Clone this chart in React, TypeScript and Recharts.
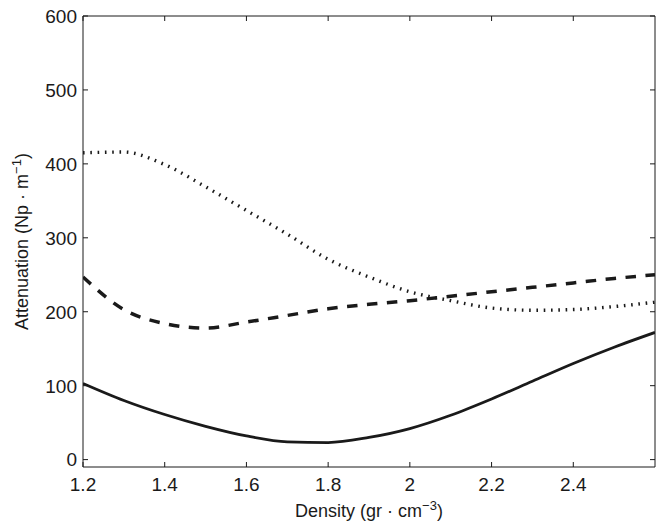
import { LineChart, Line, XAxis, YAxis, Label } from 'recharts';

// density (gr·cm^-3) sampled every 0.1
const density = [1.2, 1.3, 1.4, 1.5, 1.6, 1.7, 1.8, 1.9, 2.0, 2.1, 2.2, 2.3, 2.4, 2.5, 2.6];
const solidValues = [103, 80, 61, 45, 32, 24, 23, 30, 42, 60, 82, 106, 130, 152, 172];
const dashedValues = [247, 203, 184, 178, 186, 195, 204, 210, 215, 221, 227, 233, 239, 245, 250];
const dottedValues = [415, 416, 399, 369, 337, 305, 271, 247, 227, 215, 205, 202, 203, 207, 213];

const xTicks = [1.2, 1.4, 1.6, 1.8, 2, 2.2, 2.4];
const yTicks = [0, 100, 200, 300, 400, 500, 600];

const FONT = '"Liberation Sans", Arial, Helvetica, sans-serif';
const INK = '#1a1a1a';
const TICK_LEN = 5;
const TICK_MARGIN = 10;

const chartData = density.map((d, i) => ({
  density: d,
  solid: solidValues[i],
  dashed: dashedValues[i],
  dotted: dottedValues[i],
}));

const fmtX = (v: number) => String(Number(v.toFixed(1)));

function BottomTick(props: any) {
  const { x, y, payload } = props;
  const axisY = y - TICK_MARGIN;
  return (
    <g>
      <line x1={x} x2={x} y1={axisY} y2={axisY - TICK_LEN} stroke={INK} strokeWidth={1} />
      <text x={x} y={y} dy="0.72em" textAnchor="middle" fontSize={19} fontFamily={FONT} fill={INK}>
        {fmtX(payload.value)}
      </text>
    </g>
  );
}

function LeftTick(props: any) {
  const { x, y, payload } = props;
  const axisX = x + TICK_MARGIN;
  return (
    <g>
      <line x1={axisX} x2={axisX + TICK_LEN} y1={y} y2={y} stroke={INK} strokeWidth={1} />
      <text x={x + 4} y={y} dy="0.36em" textAnchor="end" fontSize={19} fontFamily={FONT} fill={INK}>
        {payload.value}
      </text>
    </g>
  );
}

function TopTick(props: any) {
  const { x, y } = props;
  const axisY = y + TICK_MARGIN;
  return <line x1={x} x2={x} y1={axisY} y2={axisY + TICK_LEN} stroke={INK} strokeWidth={1} />;
}

function RightTick(props: any) {
  const { x, y } = props;
  const axisX = x - TICK_MARGIN;
  return <line x1={axisX} x2={axisX - TICK_LEN} y1={y} y2={y} stroke={INK} strokeWidth={1} />;
}

function XTitle(props: any) {
  const { viewBox } = props;
  const cx = viewBox.x + viewBox.width / 2;
  return (
    <text x={cx} y={viewBox.y + 50} textAnchor="middle" fontSize={18} fontFamily={FONT} fill={INK}>
      Density (gr · cm
      <tspan dy={-7} fontSize={13}>−3</tspan>
      <tspan dy={7}>)</tspan>
    </text>
  );
}

function YTitle(props: any) {
  const { viewBox } = props;
  const cy = viewBox.y + viewBox.height / 2;
  const cx = 28;
  return (
    <text
      x={cx}
      y={cy}
      transform={`rotate(-90, ${cx}, ${cy})`}
      textAnchor="middle"
      fontSize={18}
      fontFamily={FONT}
      fill={INK}
    >
      Attenuation (Np · m
      <tspan dy={-7} fontSize={13}>−1</tspan>
      <tspan dy={7}>)</tspan>
    </text>
  );
}

export default function App() {
  return (
    <div style={{ position: 'fixed', left: 0, top: 0, width: 664, height: 531, background: '#fff' }}>
      <LineChart
        width={664}
        height={531}
        data={chartData}
        margin={{ top: 15, right: 8, left: 0, bottom: 0 }}
      >
        <XAxis
          xAxisId="b"
          dataKey="density"
          type="number"
          domain={[1.2, 2.6]}
          ticks={xTicks}
          allowDataOverflow
          height={64}
          tickSize={0}
          tickMargin={TICK_MARGIN}
          tick={<BottomTick />}
          axisLine={{ stroke: INK, strokeWidth: 1 }}
          tickLine={false}
        >
          <Label content={<XTitle />} />
        </XAxis>
        <XAxis
          xAxisId="t"
          orientation="top"
          dataKey="density"
          type="number"
          domain={[1.2, 2.6]}
          ticks={xTicks}
          allowDataOverflow
          height={1}
          tickSize={0}
          tickMargin={TICK_MARGIN}
          tick={<TopTick />}
          axisLine={{ stroke: INK, strokeWidth: 1 }}
          tickLine={false}
        />
        <YAxis
          yAxisId="l"
          type="number"
          domain={[-10, 600]}
          ticks={yTicks}
          allowDataOverflow
          width={83}
          tickSize={0}
          tickMargin={TICK_MARGIN}
          tick={<LeftTick />}
          axisLine={{ stroke: INK, strokeWidth: 1 }}
          tickLine={false}
        >
          <Label content={<YTitle />} />
        </YAxis>
        <YAxis
          yAxisId="r"
          orientation="right"
          type="number"
          domain={[-10, 600]}
          ticks={yTicks}
          allowDataOverflow
          width={1}
          tickSize={0}
          tickMargin={TICK_MARGIN}
          tick={<RightTick />}
          axisLine={{ stroke: INK, strokeWidth: 1 }}
          tickLine={false}
        />
        <Line
          xAxisId="b"
          yAxisId="l"
          type="monotone"
          dataKey="solid"
          stroke={INK}
          strokeWidth={2.8}
          dot={false}
          isAnimationActive={false}
        />
        <Line
          xAxisId="b"
          yAxisId="l"
          type="monotone"
          dataKey="dashed"
          stroke={INK}
          strokeWidth={3.5}
          strokeDasharray="10.5 9.5"
          dot={false}
          isAnimationActive={false}
        />
        <Line
          xAxisId="b"
          yAxisId="l"
          type="monotone"
          dataKey="dotted"
          stroke={INK}
          strokeWidth={3.4}
          strokeDasharray="1.6 5.7"
          dot={false}
          isAnimationActive={false}
        />
      </LineChart>
    </div>
  );
}
